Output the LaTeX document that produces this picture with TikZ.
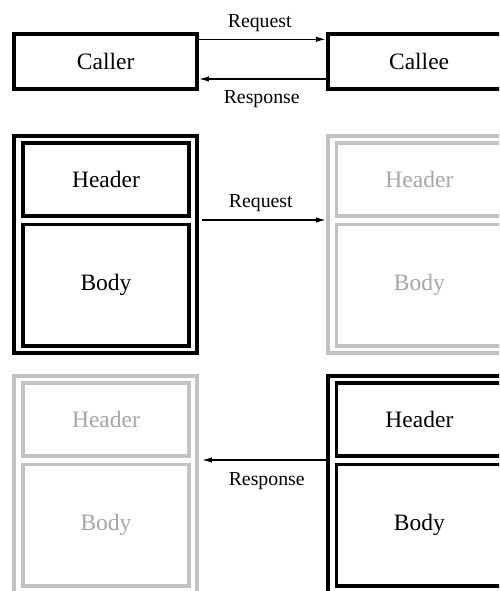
\documentclass[tikz,border=0pt]{standalone}
\usepackage{fontspec}
\setmainfont{Liberation Serif}
\usetikzlibrary{arrows.meta}
\definecolor{msgFaint}    {HTML}{C2C2C2}
\definecolor{msgFaintText}{HTML}{A6A6A6}

\begin{document}
\begin{tikzpicture}[x=1pt,y=-1pt,
      box/.style={draw,line width=3.8pt,inner sep=0pt,minimum width=182.7pt,
                  font=\fontsize{23.5}{27}\selectfont},
      part/.style={draw,line width=3.8pt,inner sep=0pt,minimum width=165.7pt,
                   font=\fontsize{23.5}{27}\selectfont},
      faint/.style={draw=msgFaint,text=msgFaintText},
      lbl/.style={anchor=base,inner sep=0pt,font=\fontsize{19.8}{23}\selectfont},
      flow/.style={-{Latex[length=10pt,width=5.5pt]},line width=1.3pt}]

    \useasboundingbox (0,0) rectangle (499,591);
    \clip (0,0) rectangle (499,591);

    % the plain call
    \node[box,minimum height=55.3pt] (caller) at (105.7,61.4)  {Caller};
    \node[box,minimum height=55.3pt] (callee) at (419.1,61.4)  {Callee};
    \draw[flow] ([yshift=22.1pt]caller.east) -- ([yshift=22.1pt]callee.west);
    \draw[flow] ([yshift=-17.6pt]callee.west) -- ([yshift=-17.6pt]caller.east);
    \node[lbl] (reqtop) at (259.7,27.3)  {Request};
    \node[lbl] (restop) at (261.7,103.3) {Response};

    % request message goes out
    \node[box,minimum height=217pt]          (reqA)     at (105.7,244.5) {};
    \node[part,minimum height=73.3pt]        (reqAhead) at (106.0,179.4) {Header};
    \node[part,minimum height=121.5pt]       (reqAbody) at (106.0,285.3) {Body};
    \node[box,faint,minimum height=217pt]    (reqB)     at (419.1,244.5) {};
    \node[part,faint,minimum height=73.3pt]  (reqBhead) at (419.4,179.4) {Header};
    \node[part,faint,minimum height=121.5pt] (reqBbody) at (419.4,285.3) {Body};
    \draw[flow,shorten <=3pt] ([yshift=24.5pt]reqA.east) -- ([yshift=24.5pt]reqB.west);
    \node[lbl] (reqmid) at (260.8,207.3) {Request};

    % response message comes back
    \node[box,faint,minimum height=217pt]    (resA)     at (105.7,484.5) {};
    \node[part,faint,minimum height=73.3pt]  (resAhead) at (106.0,419.4) {Header};
    \node[part,faint,minimum height=121.5pt] (resAbody) at (106.0,525.3) {Body};
    \node[box,minimum height=217pt]          (resB)     at (419.1,484.5) {};
    \node[part,minimum height=73.3pt]        (resBhead) at (419.4,419.4) {Header};
    \node[part,minimum height=121.5pt]       (resBbody) at (419.4,525.3) {Body};
    \draw[flow,shorten >=3pt] ([yshift=24.5pt]resB.west) -- ([yshift=24.5pt]resA.east);
    \node[lbl] (resmid) at (266.7,485) {Response};
\end{tikzpicture}
\end{document}
